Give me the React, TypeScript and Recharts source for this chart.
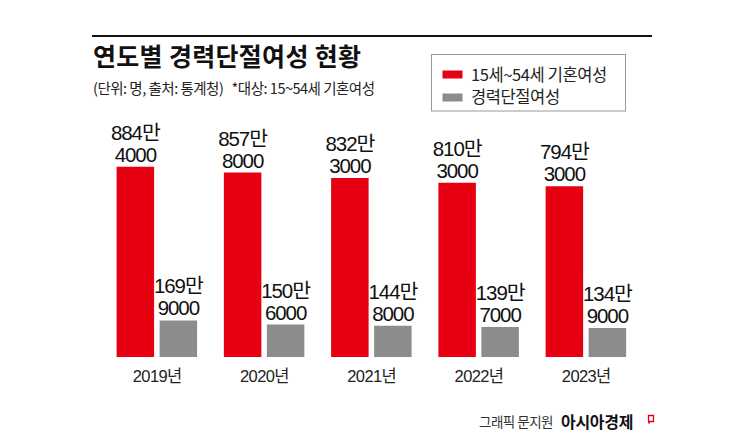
import React from 'react';
import { BarChart, Bar, XAxis, YAxis, LabelList } from 'recharts';

const years = ['2019년', '2020년', '2021년', '2022년', '2023년'];
const marriedWomen = [8844000, 8578000, 8323000, 8103000, 7943000];
const careerBreakWomen = [1699000, 1506000, 1448000, 1397000, 1349000];
const seriesNames = ['15세~54세 기혼여성', '경력단절여성'];
const seriesColors = ['#e60012', '#8c8c8c'];
const titleText = '연도별 경력단절여성 현황';
const subtitleText = '(단위: 명, 출처: 통계청)   *대상: 15~54세 기혼여성';
const creditText = '그래픽 문지원';
const brandText = '아시아경제';

const data = years.map((y, i) => ({ year: y, married: marriedWomen[i], career: careerBreakWomen[i] }));

const NUM_FONT = '"Liberation Sans", Arial, "Noto Sans CJK KR", sans-serif';
const KR_FONT = '"Noto Sans CJK KR", "Noto Sans", sans-serif';

const ValueLabel = (props: any) => {
  const { x, y, width, value } = props;
  const man = Math.floor(value / 10000);
  const rest = value % 10000;
  const cx = x + width / 2;
  return (
    <text textAnchor="middle" fontFamily={NUM_FONT} fontSize={20.5} fill="#111" letterSpacing={-1.1}>
      <tspan x={cx} y={y - 27}>{man}만</tspan>
      <tspan x={cx} y={y - 5}>{rest}</tspan>
    </text>
  );
};

const YearTick = (props: any) => {
  const { x, y, payload } = props;
  return (
    <text x={x} y={y + 25} textAnchor="middle" fontFamily={NUM_FONT} fontSize={16.5} fill="#222" letterSpacing={-0.6}>
      {payload.value}
    </text>
  );
};

export default function App() {
  return (
    <div style={{ position: 'absolute', left: 0, top: 0, width: 745, height: 441, background: '#fff' }}>
      <BarChart
        width={745}
        height={441}
        data={data}
        margin={{ top: 142, left: 103.6, right: 105.1, bottom: 54 }}
        barGap={5.5}
        barSize={37.5}
      >
        <XAxis dataKey="year" axisLine={false} tickLine={false} tickSize={0} tickMargin={0} height={30} tick={<YearTick />} interval={0} />
        <YAxis hide domain={[0, 10000000]} />
        <Bar dataKey="married" name={seriesNames[0]} fill={seriesColors[0]} isAnimationActive={false}>
          <LabelList dataKey="married" content={<ValueLabel />} />
        </Bar>
        <Bar dataKey="career" name={seriesNames[1]} fill={seriesColors[1]} isAnimationActive={false}>
          <LabelList dataKey="career" content={<ValueLabel />} />
        </Bar>
      </BarChart>
      <svg width={745} height={441} style={{ position: 'absolute', left: 0, top: 0, pointerEvents: 'none' }}>
        <rect x={92} y={35} width={560} height={2} fill="#111" />
        <text x={93} y={66} fontFamily={KR_FONT} fontWeight={700} fontSize={25} fill="#111" letterSpacing={0.3}>
          {titleText}
        </text>
        <text x={93} y={94} fontFamily={KR_FONT} fontSize={14.5} fill="#222" letterSpacing={-0.5} xmlSpace="preserve">
          {subtitleText}
        </text>
        <rect x={431.5} y={54.5} width={194} height={56.5} fill="#fff" stroke="#999" strokeWidth={1} />
        {seriesNames.map((name, i) => (
          <g key={name}>
            <rect x={442.5} y={70.5 + i * 23} width={20} height={8} fill={seriesColors[i]} />
            <text x={471} y={80.5 + i * 22.5} fontFamily={KR_FONT} fontSize={16.5} fill="#222" letterSpacing={-0.4}>
              {name}
            </text>
          </g>
        ))}
        <text x={479} y={427} fontFamily={KR_FONT} fontSize={13.5} fill="#333" letterSpacing={-0.5}>
          {creditText}
        </text>
        <text x={561} y={428} fontFamily={KR_FONT} fontWeight={700} fontSize={16} fill="#111" letterSpacing={-0.3}>
          {brandText}
        </text>
        <path d="M648.5 415.5 h5 v6 h-5 z M650 421.5 l-1.5 2" fill="none" stroke="#e60012" strokeWidth={1.3} />
      </svg>
    </div>
  );
}
